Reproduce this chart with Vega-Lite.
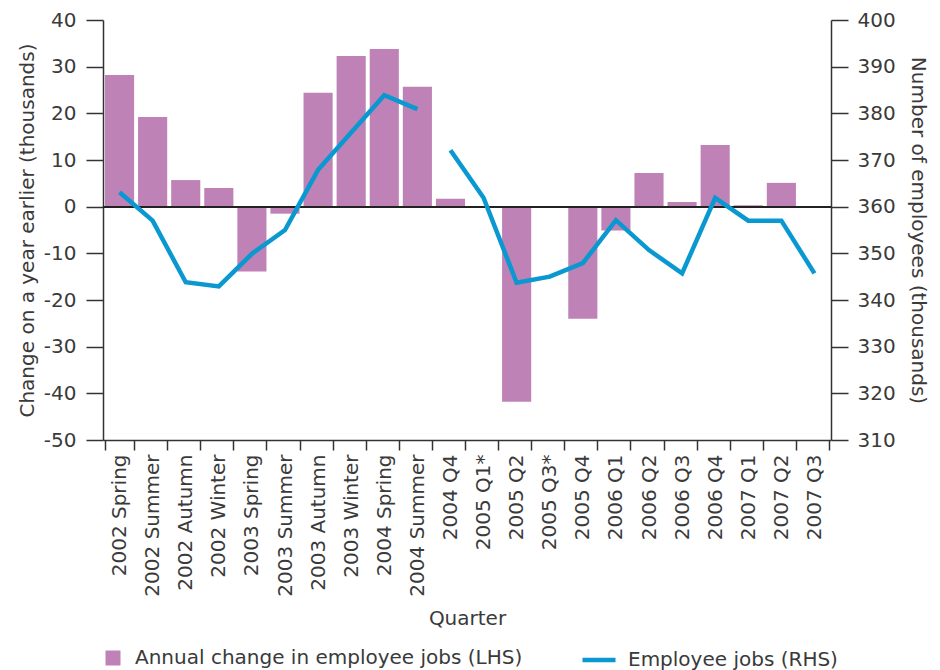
{
  "$schema": "https://vega.github.io/schema/vega-lite/v6.json",
  "width": 728,
  "height": 420,
  "autosize": {"type": "none"},
  "padding": {"left": 103, "top": 20, "right": 109, "bottom": 230},
  "background": "white",
  "config": {
    "font": "DejaVu Sans",
    "view": {"stroke": null},
    "axis": {
      "labelFont": "DejaVu Sans", "labelFontSize": 20, "labelColor": "#3a3a3a",
      "titleFont": "DejaVu Sans", "titleFontSize": 20, "titleFontWeight": "normal", "titleColor": "#3a3a3a",
      "domainColor": "#333", "domainWidth": 1.5, "tickColor": "#333", "tickWidth": 1.5, "grid": false
    },
    "legend": {"labelFont": "DejaVu Sans", "labelFontSize": 20, "labelColor": "#3a3a3a", "padding": 0, "labelLimit": 0}
  },
  "data": {"values": [
    {"q": "2002 Spring", "change": 28.2, "jobs": 363.1, "seg": "a"},
    {"q": "2002 Summer", "change": 19.2, "jobs": 357.0, "seg": "a"},
    {"q": "2002 Autumn", "change": 5.7, "jobs": 343.8, "seg": "a"},
    {"q": "2002 Winter", "change": 4.0, "jobs": 342.9, "seg": "a"},
    {"q": "2003 Spring", "change": -13.9, "jobs": 349.9, "seg": "a"},
    {"q": "2003 Summer", "change": -1.5, "jobs": 355.0, "seg": "a"},
    {"q": "2003 Autumn", "change": 24.4, "jobs": 367.9, "seg": "a"},
    {"q": "2003 Winter", "change": 32.3, "jobs": 375.9, "seg": "a"},
    {"q": "2004 Spring", "change": 33.8, "jobs": 383.9, "seg": "a"},
    {"q": "2004 Summer", "change": 25.7, "jobs": 380.9, "seg": "a"},
    {"q": "2004 Q4", "change": 1.7, "jobs": 372.1, "seg": "b"},
    {"q": "2005 Q1*", "change": null, "jobs": 361.9, "seg": "b"},
    {"q": "2005 Q2", "change": -41.8, "jobs": 343.7, "seg": "b"},
    {"q": "2005 Q3*", "change": null, "jobs": 345.0, "seg": "b"},
    {"q": "2005 Q4", "change": -24.0, "jobs": 347.9, "seg": "b"},
    {"q": "2006 Q1", "change": -5.1, "jobs": 357.1, "seg": "b"},
    {"q": "2006 Q2", "change": 7.2, "jobs": 350.7, "seg": "b"},
    {"q": "2006 Q3", "change": 1.0, "jobs": 345.7, "seg": "b"},
    {"q": "2006 Q4", "change": 13.2, "jobs": 361.9, "seg": "b"},
    {"q": "2007 Q1", "change": 0.3, "jobs": 357.0, "seg": "b"},
    {"q": "2007 Q2", "change": 5.1, "jobs": 357.0, "seg": "b"},
    {"q": "2007 Q3", "change": 0.1, "jobs": 345.7, "seg": "b"}
  ]},
  "layer": [
    {
      "layer": [
        {
          "mark": {"type": "bar"},
          "encoding": {
            "x": {"field": "q", "type": "nominal", "sort": null,
              "scale": {"domain": ["2002 Spring", "2002 Summer", "2002 Autumn", "2002 Winter", "2003 Spring", "2003 Summer", "2003 Autumn", "2003 Winter", "2004 Spring", "2004 Summer", "2004 Q4", "2005 Q1*", "2005 Q2", "2005 Q3*", "2005 Q4", "2006 Q1", "2006 Q2", "2006 Q3", "2006 Q4", "2007 Q1", "2007 Q2", "2007 Q3"], "paddingInner": 0.12, "paddingOuter": 0.06},
              "axis": {"orient": "bottom", "title": "Quarter", "labelAngle": -90, "tickBand": "extent", "tickSize": 10, "labelPadding": 4, "titlePadding": 12}},
            "y": {"field": "change", "type": "quantitative",
              "scale": {"domain": [-50, 40], "nice": false, "zero": false},
              "axis": {"orient": "left", "values": [-50, -40, -30, -20, -10, 0, 10, 20, 30, 40], "labelExpr": "'' + datum.value", "tickSize": 17, "labelPadding": 10, "title": "Change on a year earlier (thousands)", "titlePadding": 6}},
            "fill": {"datum": "Annual change in employee jobs (LHS)", "type": "nominal",
              "scale": {"range": ["#BE82B6"]},
              "legend": {"orient": "none", "legendX": 0, "legendY": 628, "title": null, "symbolType": "square", "symbolSize": 225, "symbolStrokeWidth": 0, "labelOffset": 12}}
          }
        },
        {
          "mark": {"type": "rule", "color": "#222", "strokeWidth": 1.5},
          "encoding": {"y": {"datum": 0, "type": "quantitative"}}
        }
      ]
    },
    {
      "mark": {"type": "line", "strokeWidth": 4.5},
      "encoding": {
        "x": {"field": "q", "type": "nominal", "sort": null,
          "scale": {"domain": ["2002 Spring", "2002 Summer", "2002 Autumn", "2002 Winter", "2003 Spring", "2003 Summer", "2003 Autumn", "2003 Winter", "2004 Spring", "2004 Summer", "2004 Q4", "2005 Q1*", "2005 Q2", "2005 Q3*", "2005 Q4", "2006 Q1", "2006 Q2", "2006 Q3", "2006 Q4", "2007 Q1", "2007 Q2", "2007 Q3"], "paddingInner": 0.12, "paddingOuter": 0.06},
          "axis": {"orient": "bottom", "title": "Quarter", "labelAngle": -90, "tickBand": "extent", "tickSize": 10, "labelPadding": 4, "titlePadding": 12}},
        "y": {"field": "jobs", "type": "quantitative",
          "scale": {"domain": [310, 400], "nice": false, "zero": false},
          "axis": {"orient": "right", "values": [310, 320, 330, 340, 350, 360, 370, 380, 390, 400], "tickSize": 17, "labelPadding": 9, "title": "Number of employees (thousands)", "titlePadding": 12}},
        "detail": {"field": "seg"},
        "stroke": {"datum": "Employee jobs (RHS)", "type": "nominal",
          "scale": {"range": ["#0A98D0"]},
          "legend": {"orient": "none", "legendX": 477, "legendY": 621, "title": null, "symbolType": "stroke", "symbolSize": 1089, "symbolStrokeWidth": 4.5, "labelOffset": 10}}
      }
    }
  ],
  "resolve": {"scale": {"y": "independent"}}
}
